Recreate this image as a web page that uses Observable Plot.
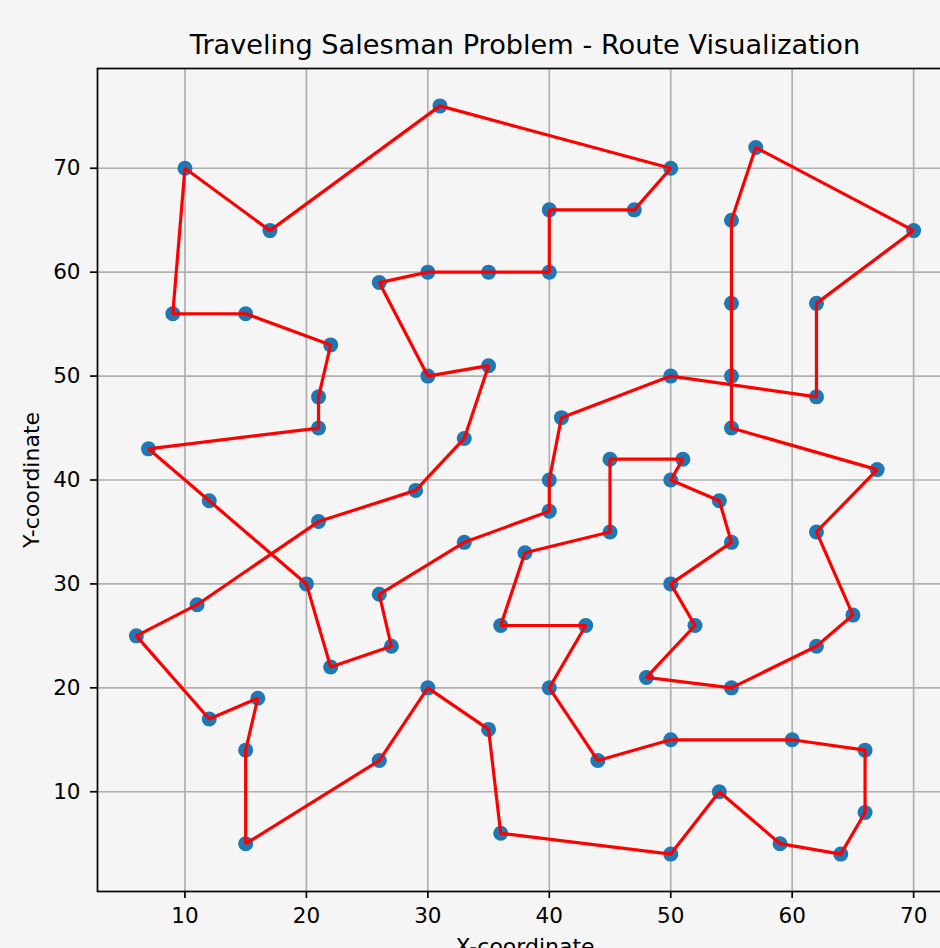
<!DOCTYPE html>
<html>
<head>
<meta charset="utf-8">
<script src="https://cdn.jsdelivr.net/npm/d3@7"></script>
<script src="https://cdn.jsdelivr.net/npm/@observablehq/plot@0.6"></script>
<style>
  html, body { margin: 0; padding: 0; background: #f5f5f5; overflow: hidden; }
  #chart svg { background: #f5f5f5; font-family: "DejaVu Sans", sans-serif; display: block; }
</style>
</head>
<body>
<div id="chart"></div>
<script>
// Route order (city coordinates), closed tour
const routeX = [31, 50, 47, 40, 40, 35, 30, 26, 30, 35, 33, 29, 21, 11, 6, 12, 16, 15, 15, 26,
                30, 35, 36, 50, 54, 59, 64, 66, 66, 60, 50, 44, 40, 43, 36, 38, 45, 45, 51, 50,
                54, 55, 50, 52, 48, 55, 62, 65, 62, 67, 55, 55, 55, 55, 57, 70, 62, 62, 50, 41,
                40, 40, 33, 26, 27, 22, 20, 12, 7, 21, 21, 22, 15, 9, 10, 17];
const routeY = [76, 70, 66, 66, 60, 60, 60, 59, 50, 51, 44, 39, 36, 28, 25, 17, 19, 14, 5, 13,
                20, 16, 6, 4, 10, 5, 4, 8, 14, 15, 15, 13, 20, 26, 26, 33, 35, 42, 42, 40,
                38, 34, 30, 26, 21, 20, 24, 27, 35, 41, 45, 50, 57, 65, 72, 64, 57, 48, 50, 46,
                40, 37, 34, 29, 24, 22, 30, 38, 43, 45, 48, 53, 56, 56, 70, 64];
const xTicks = [10, 20, 30, 40, 50, 60, 70];
const yTicks = [10, 20, 30, 40, 50, 60, 70];
const titleText = "Traveling Salesman Problem - Route Visualization";
const xLabel = "X-coordinate";
const yLabel = "Y-coordinate";

const cities = routeX.map((x, i) => ({x, y: routeY[i]}));
const tour = cities.concat([cities[0]]);

const xPad = (d3.max(routeX) - d3.min(routeX)) * 0.05;
const yPad = (d3.max(routeY) - d3.min(routeY)) * 0.05;

const chart = Plot.plot({
  width: 940,
  height: 948,
  marginLeft: 97,
  marginRight: -12,
  marginTop: 68,
  marginBottom: 57,
  style: {fontFamily: "DejaVu Sans, sans-serif", background: "#f5f5f5"},
  x: {domain: [d3.min(routeX) - xPad, d3.max(routeX) + xPad]},
  y: {domain: [d3.min(routeY) - yPad, d3.max(routeY) + yPad]},
  marks: [
    Plot.gridX(xTicks, {stroke: "#b0b0b0", strokeOpacity: 1, strokeWidth: 1.7}),
    Plot.gridY(yTicks, {stroke: "#b0b0b0", strokeOpacity: 1, strokeWidth: 1.7}),
    Plot.dot(cities, {x: "x", y: "y", r: 7.5, fill: "#1f77b4", stroke: null}),
    Plot.line(tour, {x: "x", y: "y", stroke: "#ff0000", strokeWidth: 3.2, strokeLinejoin: "miter", curve: "linear"}),
    Plot.frame({stroke: "#000", strokeWidth: 1.7}),
    Plot.axisX(xTicks, {tickSize: 7, tickPadding: 9, fontSize: 21.5, stroke: "#000", strokeWidth: 1.7, fill: "#000", label: null}),
    Plot.axisY(yTicks, {tickSize: 7, tickPadding: 10, fontSize: 21.5, stroke: "#000", strokeWidth: 1.7, fill: "#000", label: null}),
    Plot.text([titleText], {text: d => d, frameAnchor: "top", textAnchor: "middle", lineAnchor: "bottom", dy: -15, fontSize: 27.2, fill: "#000"}),
    Plot.text([xLabel], {text: d => d, frameAnchor: "bottom", textAnchor: "middle", lineAnchor: "bottom", dy: 62, fontSize: 22, fill: "#000"}),
    Plot.text([yLabel], {text: d => d, frameAnchor: "left", textAnchor: "middle", lineAnchor: "bottom", rotate: -90, dx: -59, fontSize: 22, fill: "#000"})
  ]
});
document.getElementById("chart").appendChild(chart);
</script>
</body>
</html>
